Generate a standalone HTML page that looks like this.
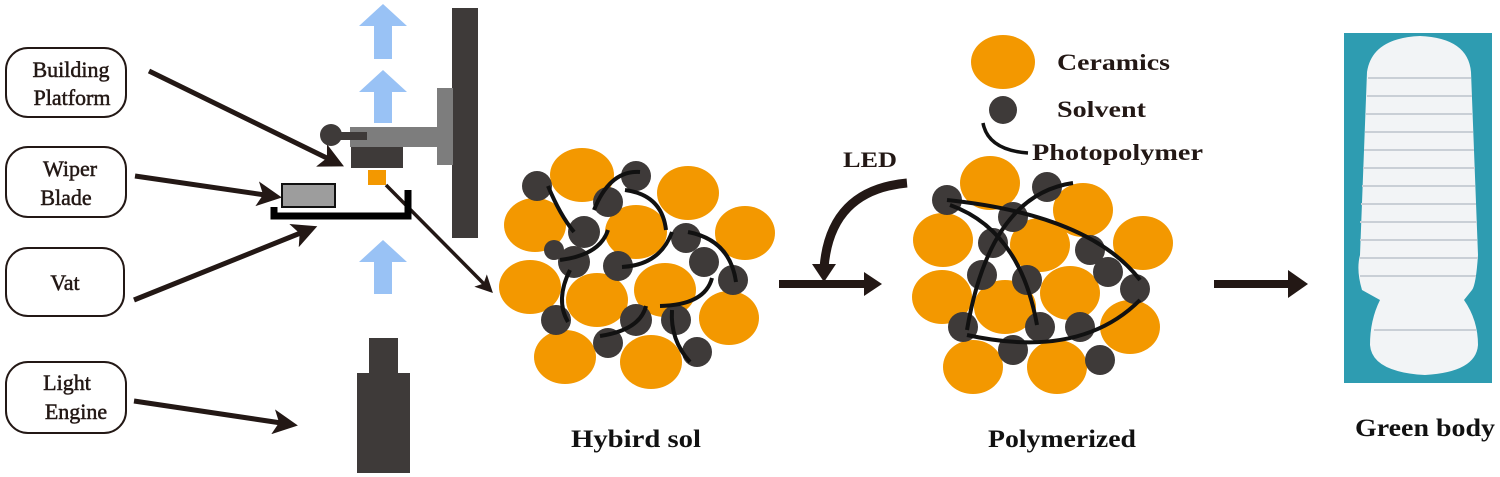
<!DOCTYPE html>
<html><head><meta charset="utf-8"><style>
html,body{margin:0;padding:0;background:#fff}
svg{display:block}
text{font-family:"Liberation Serif",serif}
</style></head><body>
<svg width="1500" height="477" viewBox="0 0 1500 477" xmlns="http://www.w3.org/2000/svg">
<defs>
<marker id="ah" markerWidth="5" markerHeight="5" refX="3" refY="2.5" orient="auto" markerUnits="strokeWidth">
<path d="M0,0 L5,2.5 L0,5 L1.2,2.5 Z" fill="#231815"/></marker>
</defs>
<g fill="#fff" stroke="#231815" stroke-width="2">
<rect x="6" y="48" width="120" height="69" rx="22"/>
<rect x="6" y="147" width="120" height="70" rx="22"/>
<rect x="6" y="248" width="118" height="68" rx="22"/>
<rect x="6" y="362" width="120" height="71" rx="22"/>
</g>
<g font-size="22" fill="#231815" text-anchor="middle" stroke="#231815" stroke-width="0.5">
<text x="71" y="77">Building</text><text x="72" y="105">Platform</text>
<text x="70" y="176">Wiper</text><text x="66" y="205">Blade</text>
<text x="65" y="290">Vat</text>
<text x="67" y="390">Light</text><text x="76" y="419">Engine</text>
</g>
<g stroke="#231815" stroke-width="5" fill="none" marker-end="url(#ah)">
<line x1="149" y1="71" x2="335" y2="162"/>
<line x1="135" y1="176" x2="272" y2="196"/>
<line x1="134" y1="300" x2="308" y2="230"/>
<line x1="134" y1="401" x2="288" y2="424"/>
<line x1="386" y1="185" x2="488" y2="288" stroke-width="3.5"/>
</g>
<g fill="#99c2f5">
<path d="M383,4 L407,26 L392,26 L392,59 L374,59 L374,26 L359,26 Z"/>
<path d="M383,70 L407,92 L392,92 L392,123 L374,123 L374,92 L359,92 Z"/>
<path d="M383,240 L407,262 L392,262 L392,294 L374,294 L374,262 L359,262 Z"/>
</g>
<rect x="452" y="8" width="26" height="230" fill="#3e3a39"/>
<rect x="437" y="88" width="16" height="77" fill="#7d7d7d"/>
<rect x="350" y="127" width="87" height="20" fill="#7d7d7d"/>
<circle cx="331" cy="135" r="11" fill="#3e3a39"/>
<rect x="331" y="132" width="36" height="8" fill="#3e3a39"/>
<rect x="351" y="147" width="52" height="21" fill="#3e3a39"/>
<rect x="368" y="170" width="18" height="15" fill="#f39800"/>
<rect x="282" y="184" width="53" height="23" fill="#9d9d9d" stroke="#111" stroke-width="2"/>
<path d="M274,207 V216 H408 V190" fill="none" stroke="#000" stroke-width="7"/>
<rect x="369" y="338" width="29" height="35" fill="#3e3a39"/>
<rect x="357" y="373" width="53" height="100" fill="#3e3a39"/>
<g fill="#f39800">
<ellipse cx="582" cy="175" rx="32" ry="27"/><ellipse cx="688" cy="193" rx="31" ry="27"/>
<ellipse cx="535" cy="225" rx="31" ry="27"/><ellipse cx="636" cy="232" rx="31" ry="27"/>
<ellipse cx="745" cy="233" rx="30" ry="27"/><ellipse cx="530" cy="287" rx="31" ry="27"/>
<ellipse cx="597" cy="300" rx="31" ry="27"/><ellipse cx="665" cy="290" rx="31" ry="27"/>
<ellipse cx="729" cy="318" rx="30" ry="27"/><ellipse cx="565" cy="357" rx="31" ry="27"/>
<ellipse cx="651" cy="362" rx="31" ry="27"/>
</g>
<g fill="#3e3a39">
<circle cx="537" cy="186" r="15"/><circle cx="636" cy="176" r="15"/><circle cx="608" cy="202" r="15"/>
<circle cx="584" cy="232" r="16"/><circle cx="574" cy="262" r="16"/><circle cx="618" cy="266" r="15"/>
<circle cx="686" cy="238" r="15"/><circle cx="704" cy="262" r="15"/><circle cx="733" cy="280" r="15"/>
<circle cx="556" cy="320" r="15"/><circle cx="636" cy="320" r="16"/><circle cx="676" cy="320" r="15"/>
<circle cx="608" cy="343" r="15"/><circle cx="697" cy="352" r="15"/><circle cx="554" cy="250" r="10"/>
</g>
<g fill="none" stroke="#111" stroke-width="4">
<path d="M548,186 Q560,215 574,232"/>
<path d="M594,210 Q610,170 640,172"/>
<path d="M625,190 Q662,195 666,230"/>
<path d="M608,230 Q600,255 560,260"/>
<path d="M570,270 Q555,300 568,322"/>
<path d="M622,267 Q660,265 672,232"/>
<path d="M688,232 Q730,240 736,282"/>
<path d="M660,306 Q705,305 712,278"/>
<path d="M646,306 Q640,330 600,336"/>
<path d="M672,310 Q670,340 690,362"/>
</g>
<path d="M907,183 Q830,190 824,268" fill="none" stroke="#231815" stroke-width="9"/>
<path d="M812,264 L836,264 L824,282 Z" fill="#231815"/>
<line x1="779" y1="284" x2="868" y2="284" stroke="#231815" stroke-width="8"/>
<path d="M864,272 L882,284 L864,296 Z" fill="#231815"/>
<line x1="1214" y1="284" x2="1298" y2="284" stroke="#231815" stroke-width="8"/>
<path d="M1288,270 L1308,284 L1288,298 Z" fill="#231815"/>
<text x="843" y="167" font-size="22" font-weight="bold" fill="#231815" textLength="54" lengthAdjust="spacingAndGlyphs">LED</text>
<ellipse cx="1003" cy="62" rx="32" ry="27" fill="#f39800"/>
<circle cx="1003" cy="110" r="14" fill="#3e3a39"/>
<path d="M983,123 Q988,150 1028,153" fill="none" stroke="#111" stroke-width="3.5"/>
<g font-size="23" font-weight="bold" fill="#231815">
<text x="1057" y="70" textLength="113" lengthAdjust="spacingAndGlyphs">Ceramics</text>
<text x="1057" y="117" textLength="89" lengthAdjust="spacingAndGlyphs">Solvent</text>
<text x="1032" y="160" textLength="171" lengthAdjust="spacingAndGlyphs">Photopolymer</text>
</g>
<g fill="#f39800">
<ellipse cx="990" cy="183" rx="30" ry="27"/><ellipse cx="1083" cy="210" rx="30" ry="27"/>
<ellipse cx="943" cy="240" rx="30" ry="27"/><ellipse cx="1040" cy="245" rx="30" ry="27"/>
<ellipse cx="1143" cy="243" rx="30" ry="27"/><ellipse cx="942" cy="297" rx="30" ry="27"/>
<ellipse cx="1005" cy="307" rx="31" ry="27"/><ellipse cx="1070" cy="293" rx="30" ry="27"/>
<ellipse cx="1130" cy="327" rx="30" ry="27"/><ellipse cx="973" cy="367" rx="30" ry="27"/>
<ellipse cx="1057" cy="367" rx="30" ry="27"/>
</g>
<g fill="#3e3a39">
<circle cx="947" cy="200" r="15"/><circle cx="1047" cy="187" r="15"/><circle cx="1013" cy="217" r="15"/>
<circle cx="993" cy="243" r="15"/><circle cx="1090" cy="250" r="15"/><circle cx="982" cy="275" r="15"/>
<circle cx="1027" cy="280" r="15"/><circle cx="1108" cy="272" r="15"/><circle cx="1135" cy="289" r="15"/>
<circle cx="963" cy="327" r="15"/><circle cx="1040" cy="327" r="15"/><circle cx="1080" cy="327" r="15"/>
<circle cx="1013" cy="350" r="15"/><circle cx="1100" cy="360" r="15"/>
</g>
<g fill="none" stroke="#111" stroke-width="4">
<path d="M947,200 Q1090,215 1140,280"/>
<path d="M950,205 Q1020,230 1037,325"/>
<path d="M1073,183 Q990,195 967,330"/>
<path d="M967,335 Q1080,360 1140,300"/>
</g>
<rect x="1344" y="33" width="148" height="350" fill="#2e9cb1"/>
<path d="M1367,72 Q1372,38 1420,36 Q1468,38 1471,72 L1478,255 Q1476,285 1472,290 L1464,300 Q1478,320 1478,345 Q1476,372 1425,375 Q1372,372 1370,345 Q1370,320 1380,300 L1362,290 Q1356,270 1360,255 Z" fill="#f2f4f6"/>
<g stroke="#c9cfd6" stroke-width="2">
<line x1="1368" y1="78" x2="1471" y2="78"/>
<line x1="1367" y1="96" x2="1472" y2="96"/><line x1="1366" y1="114" x2="1472" y2="114"/>
<line x1="1365" y1="132" x2="1473" y2="132"/><line x1="1364" y1="150" x2="1474" y2="150"/>
<line x1="1363" y1="168" x2="1475" y2="168"/><line x1="1362" y1="186" x2="1475" y2="186"/>
<line x1="1361" y1="204" x2="1476" y2="204"/><line x1="1360" y1="222" x2="1477" y2="222"/>
<line x1="1360" y1="240" x2="1477" y2="240"/><line x1="1360" y1="258" x2="1478" y2="258"/>
<line x1="1360" y1="276" x2="1476" y2="276"/><line x1="1374" y1="330" x2="1476" y2="330"/>
</g>
<g font-size="25" font-weight="bold" fill="#111">
<text x="571" y="447" textLength="130" lengthAdjust="spacingAndGlyphs">Hybird sol</text>
<text x="988" y="447" textLength="148" lengthAdjust="spacingAndGlyphs">Polymerized</text>
<text x="1355" y="436" textLength="140" lengthAdjust="spacingAndGlyphs">Green body</text>
</g>
</svg>
</body></html>
